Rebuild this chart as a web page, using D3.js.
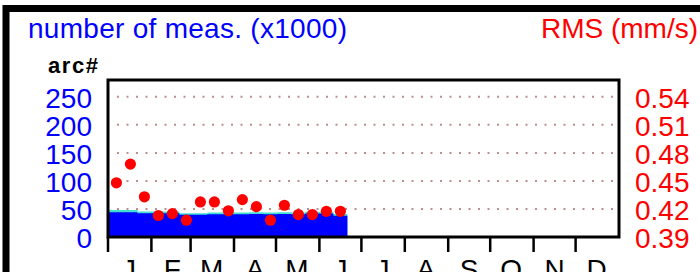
<!DOCTYPE html>
<html>
<head>
<meta charset="utf-8">
<script src="https://cdn.jsdelivr.net/npm/d3@7"></script>
<style>
  body { margin: 0; background: #fff; }
  svg { display: block; font-family: "Liberation Sans", Arial, sans-serif; }
</style>
</head>
<body>
<svg id="chart" width="700" height="272"></svg>
<script>
// 10-day bins, day offset from 1 Jan
const binStartDays = [1, 11, 21, 31, 41, 51, 61, 71, 81, 91, 101, 111, 121, 131, 141, 151, 161];
const binEndDay = 171;
// number of measurements (x1000): blue part and total incl. cyan part
const measBase = [44, 44, 42.5, 42.5, 42.5, 39.5, 39.5, 40.5, 40.5, 40.5, 41, 40.5, 41, 40.5, 42, 42, 38];
const measTotal = [48, 48, 45.5, 45.5, 45.5, 42.5, 42.5, 43.5, 43.5, 43.5, 44, 43.5, 44, 43.5, 45, 45, 41];
// RMS (mm/s)
const rmsValues = [0.448, 0.468, 0.433, 0.413, 0.415, 0.408, 0.4275, 0.4275, 0.418, 0.430, 0.4225, 0.408, 0.424, 0.414, 0.414, 0.4175, 0.4175];

const monthLabels = ["J", "F", "M", "A", "M", "J", "J", "A", "S", "O", "N", "D"];
const countTicks = [0, 50, 100, 150, 200, 250];
const rmsTicks = [0.39, 0.42, 0.45, 0.48, 0.51, 0.54];

const dimensions = {
  left: 108, right: 619, top: 80, bottom: 237,
};

const svg = d3.select("#chart");

// outer frame (extends past the picture on the right/bottom)
svg.append("rect")
  .attr("x", 6).attr("y", 8.5)
  .attr("width", 760).attr("height", 320)
  .attr("fill", "none")
  .attr("stroke", "#000")
  .attr("stroke-width", 7);

// scales
const yearStart = new Date(Date.UTC(2023, 0, 1));
const yearEnd = new Date(Date.UTC(2024, 0, 1));
const dayDate = (d) => d3.utcDay.offset(yearStart, d);

const xScale = d3.scaleUtc([yearStart, yearEnd], [dimensions.left, dimensions.right]);
const yCount = d3.scaleLinear([0, 280], [dimensions.bottom, dimensions.top]);
const yRms = d3.scaleLinear([0.39, 0.558], [dimensions.bottom, dimensions.top]);

// titles
svg.append("text")
  .attr("x", 28).attr("y", 38)
  .attr("font-size", 28)
  .attr("fill", "#0000ff")
  .attr("textLength", 319)
  .text("number of meas. (x1000)");

svg.append("text")
  .attr("x", 698).attr("y", 38)
  .attr("text-anchor", "end")
  .attr("font-size", 28)
  .attr("fill", "#ff0000")
  .text("RMS (mm/s)");

svg.append("text")
  .attr("x", 48).attr("y", 73)
  .attr("font-size", 22)
  .attr("font-weight", "bold")
  .attr("fill", "#000")
  .attr("textLength", 50)
  .text("arc#");

// clip
svg.append("clipPath").attr("id", "plot-clip")
  .append("rect")
  .attr("x", dimensions.left).attr("y", dimensions.top)
  .attr("width", dimensions.right - dimensions.left)
  .attr("height", dimensions.bottom - dimensions.top);

const plot = svg.append("g").attr("clip-path", "url(#plot-clip)");

// gridlines
plot.selectAll(".grid")
  .data(countTicks.filter((d) => d > 0))
  .join("line")
  .attr("x1", dimensions.left + 9)
  .attr("x2", dimensions.right - 2)
  .attr("y1", (d) => yCount(d))
  .attr("y2", (d) => yCount(d))
  .attr("stroke", "#bc8f8f")
  .attr("stroke-width", 2)
  .attr("stroke-dasharray", "2,7.5");

// step areas
const idx = d3.range(binStartDays.length);
const stepX = (i) => (i === 0 ? xScale(yearStart) : xScale(dayDate(binStartDays[i])));
const pts = idx.concat([idx.length]);
const valAt = (arr, i) => arr[Math.min(i, arr.length - 1)];
const xAt = (i) => (i === idx.length ? xScale(dayDate(binEndDay)) : stepX(i));

const areaTotal = d3.area()
  .curve(d3.curveStepAfter)
  .x(xAt)
  .y0(yCount(0))
  .y1((i) => yCount(valAt(measTotal, i)));

const areaBase = d3.area()
  .curve(d3.curveStepAfter)
  .x(xAt)
  .y0(yCount(0))
  .y1((i) => yCount(valAt(measBase, i)));

plot.append("path").datum(pts).attr("d", areaTotal).attr("fill", "#40e0d0");
plot.append("path").datum(pts).attr("d", areaBase).attr("fill", "#0000ff");

// rms dots
plot.selectAll(".dot")
  .data(idx)
  .join("circle")
  .attr("cx", (i) => xScale(dayDate(binStartDays[i] + 5)))
  .attr("cy", (i) => yRms(rmsValues[i]))
  .attr("r", 5.6)
  .attr("fill", "#ff0000");

// frame
svg.append("rect")
  .attr("x", dimensions.left).attr("y", dimensions.top)
  .attr("width", dimensions.right - dimensions.left)
  .attr("height", dimensions.bottom - dimensions.top)
  .attr("fill", "none")
  .attr("stroke", "#000")
  .attr("stroke-width", 3);

// month ticks + labels
const months = d3.utcMonth.range(yearStart, yearEnd);
svg.selectAll(".mtick")
  .data(months)
  .join("line")
  .attr("x1", (d) => xScale(d))
  .attr("x2", (d) => xScale(d))
  .attr("y1", dimensions.bottom)
  .attr("y2", dimensions.bottom + 15)
  .attr("stroke", "#000")
  .attr("stroke-width", 2.5);

// labels sit partly below the picture edge, as in the original
svg.selectAll(".mlabel")
  .data(months)
  .join("text")
  .attr("x", (d) => xScale(d3.utcDay.offset(d, 15)))
  .attr("y", 279)
  .attr("text-anchor", "middle")
  .attr("font-size", 28)
  .attr("fill", "#000")
  .text((d, i) => monthLabels[i]);

// left axis labels
svg.selectAll(".ylabel")
  .data(countTicks)
  .join("text")
  .attr("x", 92)
  .attr("y", (d) => yCount(d) + 11)
  .attr("text-anchor", "end")
  .attr("font-size", 28)
  .attr("fill", "#0000ff")
  .text((d) => d);

// right axis labels
svg.selectAll(".rlabel")
  .data(rmsTicks)
  .join("text")
  .attr("x", 635)
  .attr("y", (d) => yRms(d) + 11)
  .attr("font-size", 28)
  .attr("fill", "#ff0000")
  .text((d) => d3.format(".2f")(d));
</script>
</body>
</html>
